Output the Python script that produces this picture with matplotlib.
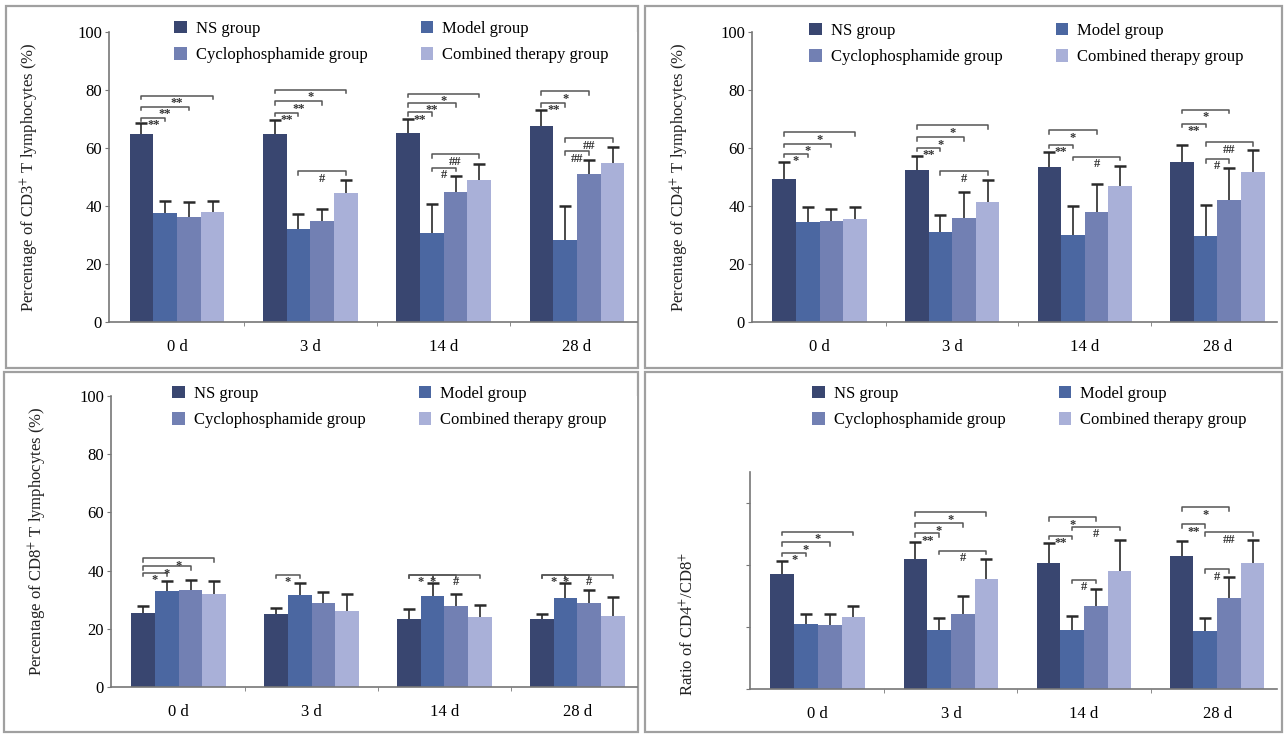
import matplotlib
matplotlib.use("Agg")
import matplotlib.pyplot as plt
import numpy as np
from matplotlib.patches import Rectangle

plt.rcParams['font.family'] = ['Liberation Serif', 'DejaVu Serif']
plt.rcParams['mathtext.fontset'] = 'stix'

days = ["0 d", "3 d", "14 d", "28 d"]
groups = ["NS group", "Model group", "Cyclophosphamide group", "Combined therapy group"]
colors = ["#394670", "#4b67a1", "#7280b3", "#a9b0d8"]

# CD3+ (%)
cd3_mean = [[64.9, 64.9, 65.2, 67.7],
            [37.5, 31.9, 30.7, 28.2],
            [36.1, 35.0, 44.9, 51.0],
            [38.1, 44.5, 48.9, 54.7]]
cd3_err = [[3.7, 4.7, 4.9, 5.4],
           [4.3, 5.4, 10.0, 11.9],
           [5.4, 3.8, 5.3, 4.8],
           [3.7, 4.4, 5.7, 5.6]]
# CD4+ (%)
cd4_mean = [[49.4, 52.3, 53.3, 55.1],
            [34.5, 31.0, 30.1, 29.5],
            [34.9, 36.0, 37.9, 42.2],
            [35.6, 41.4, 47.0, 51.6]]
cd4_err = [[5.7, 4.8, 5.2, 6.0],
           [5.2, 6.0, 9.8, 11.0],
           [4.2, 8.8, 9.8, 10.9],
           [4.1, 7.5, 6.7, 7.6]]
# CD8+ (%)
cd8_mean = [[25.5, 25.0, 23.5, 23.2],
            [32.9, 31.5, 31.2, 30.7],
            [33.3, 28.7, 27.8, 28.7],
            [32.1, 26.0, 23.9, 24.3]]
cd8_err = [[2.4, 2.3, 3.4, 2.0],
           [3.6, 4.4, 4.7, 4.9],
           [3.6, 3.8, 4.3, 4.6],
           [4.4, 5.8, 4.2, 6.7]]
# CD4+/CD8+ ratio
ratio_mean = [[1.85, 2.09, 2.04, 2.15],
              [1.05, 0.95, 0.95, 0.94],
              [1.03, 1.21, 1.34, 1.46],
              [1.16, 1.78, 1.90, 2.04]]
ratio_err = [[0.22, 0.28, 0.32, 0.24],
             [0.16, 0.19, 0.23, 0.20],
             [0.18, 0.29, 0.28, 0.35],
             [0.18, 0.31, 0.51, 0.37]]

# significance brackets: (day index, group a, group b, height, label)
cd3_sig = [(0, 0, 1, 70.5, "**"), (0, 0, 2, 74.3, "**"), (0, 0, 3, 78.1, "**"),
           (1, 0, 1, 72.1, "**"), (1, 0, 2, 76.1, "**"), (1, 0, 3, 80.0, "*"), (1, 1, 3, 51.9, "#"),
           (2, 0, 1, 72.3, "**"), (2, 0, 2, 75.5, "**"), (2, 0, 3, 78.7, "*"),
           (2, 1, 2, 53.2, "#"), (2, 1, 3, 57.8, "##"),
           (3, 0, 1, 75.5, "**"), (3, 0, 2, 79.5, "*"), (3, 1, 2, 58.9, "##"), (3, 1, 3, 63.3, "##")]
cd4_sig = [(0, 0, 1, 58.0, "*"), (0, 0, 2, 61.5, "*"), (0, 0, 3, 65.4, "*"),
           (1, 0, 1, 60.0, "**"), (1, 0, 2, 63.7, "*"), (1, 0, 3, 67.8, "*"), (1, 1, 3, 52.0, "#"),
           (2, 0, 1, 61.1, "**"), (2, 0, 2, 66.1, "*"), (2, 1, 3, 56.9, "#"),
           (3, 0, 1, 68.4, "**"), (3, 0, 2, 73.2, "*"), (3, 1, 2, 56.2, "#"), (3, 1, 3, 62.0, "##")]
cd8_sig = [(0, 0, 1, 39.2, "*"), (0, 0, 2, 41.5, "*"), (0, 0, 3, 44.2, "*"),
           (1, 0, 1, 38.6, "*"),
           (2, 0, 1, 38.6, "*"), (2, 0, 2, 38.6, "*"), (2, 1, 3, 38.6, "#"),
           (3, 0, 1, 38.6, "*"), (3, 0, 2, 38.6, "*"), (3, 1, 3, 38.6, "#")]
ratio_sig = [(0, 0, 1, 2.20, "*"), (0, 0, 2, 2.37, "*"), (0, 0, 3, 2.54, "*"),
             (1, 0, 1, 2.51, "**"), (1, 0, 2, 2.67, "*"), (1, 0, 3, 2.85, "*"), (1, 1, 3, 2.23, "#"),
             (2, 0, 1, 2.47, "**"), (2, 0, 2, 2.77, "*"), (2, 1, 3, 2.62, "#"), (2, 1, 2, 1.76, "#"),
             (3, 0, 1, 2.66, "**"), (3, 0, 2, 2.93, "*"), (3, 1, 3, 2.53, "##"), (3, 1, 2, 1.93, "#")]

W, H = 1286, 735
fig = plt.figure(figsize=(W / 100, H / 100), dpi=100)

# panel frames (pixel boxes: x0, y0, x1, y1)
frames = [(6, 6, 638, 368), (645, 6, 1282, 368), (4, 372, 638, 732), (645, 372, 1282, 732)]
for x0, y0, x1, y1 in frames:
    fig.add_artist(Rectangle((x0 / W, 1 - y1 / H), (x1 - x0) / W, (y1 - y0) / H,
                             transform=fig.transFigure, fill=False,
                             edgecolor="#a0a0a0", linewidth=1.6, zorder=0))

bw = 0.178
offs = (np.arange(4) - 1.5) * bw
x = np.arange(len(days))


def px_axes(left, right, top, bottom):
    return fig.add_axes([left / W, 1 - bottom / H, (right - left) / W, (bottom - top) / H])


def draw(ax, means, errs, sigs, ylim, yticks, ylabel, show_labels, legend_xy, span):
    for i in range(4):
        m = np.array(means[i])
        e = np.array(errs[i])
        ax.bar(x + offs[i], m, width=bw, color=colors[i], edgecolor="none",
               label=groups[i], zorder=2)
        ax.vlines(x + offs[i], m, m + e, color="#2a2a2a", lw=1.2, zorder=3)
        ax.plot(x + offs[i], m + e, ls="none", marker="_", ms=9, mew=1.8,
                color="#2a2a2a", zorder=3)
    tick = span * 0.012
    for d, a, b, h, lab in sigs:
        xa, xb = d + offs[a], d + offs[b]
        ax.plot([xa, xa, xb, xb], [h - tick, h, h, h - tick], color="#555555", lw=1.1,
                zorder=4, clip_on=False)
        ax.text((xa + xb) / 2, h - span * 0.005, lab, ha="center", va="top",
                fontsize=9, color="#333333", fontweight="bold", zorder=5)
    ax.set_xlim(-0.51, 3.45)
    ax.set_ylim(*ylim)
    ax.set_yticks(yticks)
    if not show_labels:
        ax.set_yticklabels([])
    ax.set_xticks(x)
    ax.set_xticklabels(days, fontsize=12)
    ax.set_xticks([0.5, 1.5, 2.5], minor=True)
    ax.tick_params(axis="x", which="major", length=0, pad=12)
    ax.tick_params(axis="x", which="minor", length=3, direction="out", color="#777777")
    ax.tick_params(axis="y", length=3, direction="out", color="#777777", labelsize=12, pad=2)
    for s in ["top", "right"]:
        ax.spines[s].set_visible(False)
    for s in ["left", "bottom"]:
        ax.spines[s].set_color("#777777")
        ax.spines[s].set_linewidth(1.2)
    ax.set_ylabel(ylabel, fontsize=12, color="#222222")
    h_, l_ = ax.get_legend_handles_labels()
    order = [0, 2, 1, 3]
    fig.legend([h_[k] for k in order], [l_[k] for k in order], ncol=2,
               loc="upper left", bbox_to_anchor=(legend_xy[0] / W, 1 - legend_xy[1] / H),
               frameon=False, fontsize=12, handlelength=0.75, handleheight=0.75,
               handletextpad=0.55, columnspacing=3.2, borderpad=0, borderaxespad=0,
               labelspacing=0.62)


ax1 = px_axes(109, 637, 32, 322)
draw(ax1, cd3_mean, cd3_err, cd3_sig, (0, 100), [0, 20, 40, 60, 80, 100],
     "Percentage of CD3$^{+}$ T lymphocytes (%)", True, (174, 21), 100)
ax1.yaxis.set_label_coords(-0.128, 0.5)

ax2 = px_axes(752, 1277, 32, 322)
draw(ax2, cd4_mean, cd4_err, cd4_sig, (0, 100), [0, 20, 40, 60, 80, 100],
     "Percentage of CD4$^{+}$ T lymphocytes (%)", True, (809, 23), 100)
ax2.yaxis.set_label_coords(-0.116, 0.5)

ax3 = px_axes(111, 637, 396, 687)
draw(ax3, cd8_mean, cd8_err, cd8_sig, (0, 100), [0, 20, 40, 60, 80, 100],
     "Percentage of CD8$^{+}$ T lymphocytes (%)", True, (172, 386), 100)
ax3.yaxis.set_label_coords(-0.118, 0.5)

ax4 = px_axes(750, 1277, 472, 689)
draw(ax4, ratio_mean, ratio_err, ratio_sig, (0, 3.5), [0, 1, 2, 3],
     "Ratio of CD4$^{+}$/CD8$^{+}$", False, (812, 386), 3.5 * 1.34)
ax4.yaxis.set_label_coords(-0.099, 0.3)

fig.savefig("out.png", dpi=100)
